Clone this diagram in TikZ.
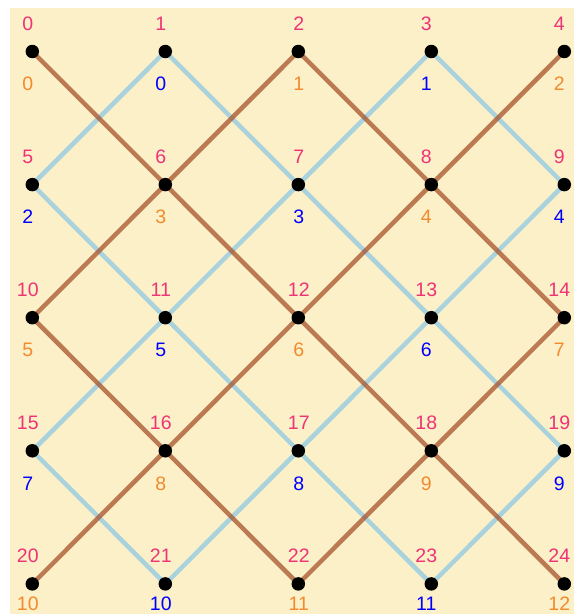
\documentclass[tikz,border=0pt]{standalone}
\usepackage{fontspec}
\setmainfont{Liberation Sans}
\usetikzlibrary{backgrounds}
\definecolor{bgyellow}{HTML}{FCF0C8}
\definecolor{edgebrown}{HTML}{A7532B}
\definecolor{edgeblue}{HTML}{8FC8E5}
\definecolor{idred}{HTML}{EE3377}
\definecolor{evenorange}{HTML}{F28A2E}
\definecolor{oddblue}{HTML}{0000FF}

\begin{document}
\begin{tikzpicture}[x=1pt, y=-1pt,
    dot/.style={circle, fill=black, inner sep=0pt, minimum size=13.5pt},
    brownedge/.style={draw=edgebrown, line width=4.5pt, opacity=0.75},
    blueedge/.style={draw=edgeblue, line width=4.5pt, opacity=0.75},
    numlabel/.style={inner sep=0pt, font=\fontsize{19.5}{19.5}\selectfont}]
    \useasboundingbox (0,0) rectangle (574,614);
    % grid points
    \foreach \r in {0,...,4}
      \foreach \c/\dx in {0/-4.5, 1/-4.5, 2/0.5, 3/-5, 4/-5} {
        \pgfmathtruncatemacro\n{5*\r+\c}
        \pgfmathtruncatemacro\half{div(\n,2)}
        \pgfmathtruncatemacro\odd{mod(\n,2)}
        \pgfmathsetmacro\px{32.3+133*\c}
        \pgfmathsetmacro\py{51.5+133.1*\r}
        \pgfmathsetmacro\below{\r==4 ? 19.5 : 32.5}
        \node[dot] (v\n) at (\px,\py) {};
        \node[numlabel, text=idred] (t\n) at (\px+\dx,\py-28) {\n};
        \ifnum\odd=1
          \node[numlabel, text=oddblue] (b\n) at (\px+\dx,\py+\below) {\half};
        \else
          \node[numlabel, text=evenorange] (b\n) at (\px+\dx,\py+\below) {\half};
        \fi
      }
    \begin{scope}[on background layer]
      \fill[bgyellow] (10,8) rectangle (574,614);
      % odd points
      \foreach \a/\b in {1/5, 1/7, 3/7, 3/9, 5/11, 7/11, 7/13, 9/13,
                         11/15, 11/17, 13/17, 13/19, 15/21, 17/21, 17/23, 19/23}
        \draw[blueedge] (v\a.center) -- (v\b.center);
      % even points
      \foreach \a/\b in {0/6, 2/6, 2/8, 4/8, 6/10, 6/12, 8/12, 8/14,
                         10/16, 12/16, 12/18, 14/18, 16/20, 16/22, 18/22, 18/24}
        \draw[brownedge] (v\a.center) -- (v\b.center);
    \end{scope}
\end{tikzpicture}
\end{document}
